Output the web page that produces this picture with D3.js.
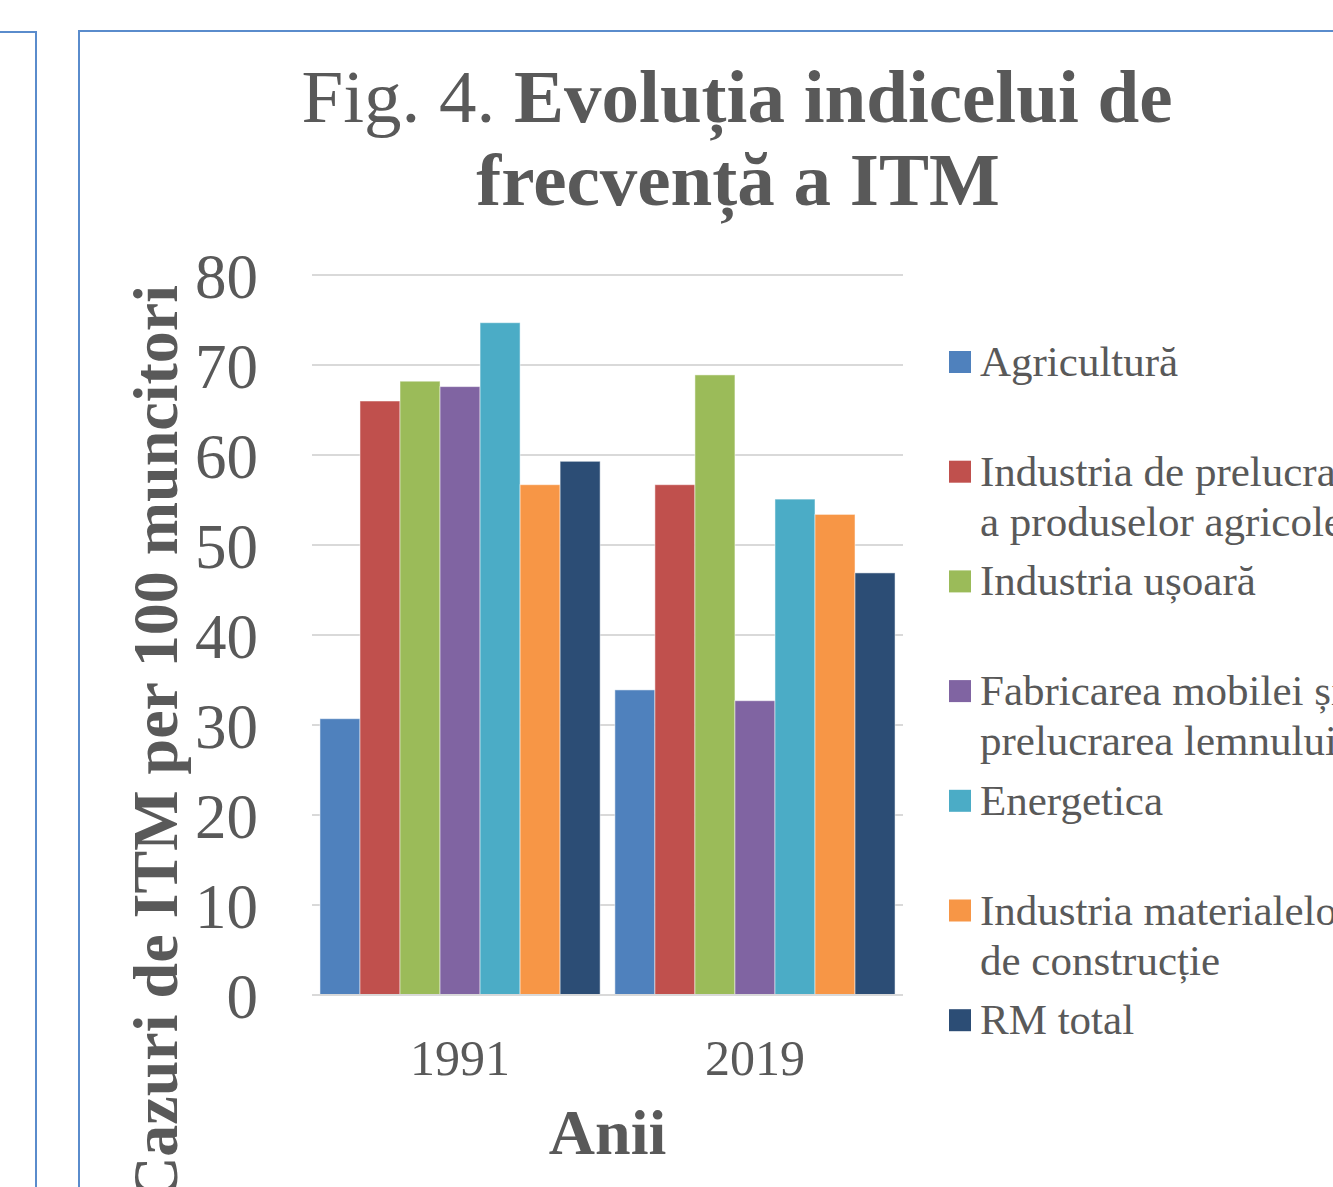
<!DOCTYPE html>
<html>
<head>
<meta charset="utf-8">
<script src="https://cdn.jsdelivr.net/npm/d3@7"></script>
<style>
  body { margin: 0; background: #fff; }
  text { font-family: "Liberation Serif", "Times New Roman", serif; fill: #595959; }
</style>
</head>
<body>
<div id="chart"></div>
<script>

// data
var years = ["1991", "2019"];
var seriesNames = ["Agricultură", "Industria de prelucrare a produselor agricole", "Industria ușoară",
  "Fabricarea mobilei și prelucrarea lemnului", "Energetica", "Industria materialelor de construcție", "RM total"];
var legendLines = [["Agricultură"], ["Industria de prelucrare", "a produselor agricole"], ["Industria ușoară"],
  ["Fabricarea mobilei și", "prelucrarea lemnului"], ["Energetica"], ["Industria materialelor", "de construcție"], ["RM total"]];
var values1991 = [30.7, 66.0, 68.2, 67.6, 74.7, 56.7, 59.3];
var values2019 = [33.9, 56.7, 68.9, 32.7, 55.1, 53.4, 46.9];
var yTicks = [0, 10, 20, 30, 40, 50, 60, 70, 80];
var colors = ["#4F81BD", "#C0504D", "#9BBB59", "#8064A2", "#4BACC6", "#F79646", "#2C4D75"];

var W = 1333, H = 1187;
var plot = { left: 312, right: 903, top: 275, bottom: 995 };

var svg = d3.select("#chart")
  .append("svg")
  .attr("width", W)
  .attr("height", H);

svg.append("rect").attr("width", W).attr("height", H).attr("fill", "#fff");

// frames of the chart boxes
svg.append("rect")
  .attr("x", -10).attr("y", 32).attr("width", 46).attr("height", H + 20)
  .attr("fill", "none").attr("stroke", "#5a8ccc").attr("stroke-width", 2);
svg.append("rect")
  .attr("x", 79).attr("y", 31).attr("width", W).attr("height", H)
  .attr("fill", "none").attr("stroke", "#5a8ccc").attr("stroke-width", 2);

// title
var title = svg.append("text")
  .attr("text-anchor", "middle")
  .attr("font-size", 75);
var t1 = title.append("tspan").attr("x", 737).attr("y", 122);
t1.append("tspan").text("Fig. 4. ");
t1.append("tspan").attr("font-weight", "bold").text("Evoluția indicelui de");
title.append("tspan").attr("x", 738).attr("y", 205).attr("font-weight", "bold").text("frecvență a ITM");

// scales
var y = d3.scaleLinear()
  .domain([0, 80])
  .range([plot.bottom, plot.top]);

var x0 = d3.scaleBand()
  .domain(years)
  .range([plot.left, plot.right])
  .paddingInner(0.05)
  .paddingOuter(0.027);

var x1 = d3.scaleBand()
  .domain(seriesNames)
  .range([0, x0.bandwidth()]);

// gridlines
svg.append("g")
  .selectAll("line")
  .data(yTicks)
  .enter().append("line")
  .attr("x1", plot.left).attr("x2", plot.right)
  .attr("y1", function(d) { return y(d); })
  .attr("y2", function(d) { return y(d); })
  .attr("stroke", "#d9d9d9")
  .attr("stroke-width", 2);

// y tick labels
svg.append("g")
  .selectAll("text")
  .data(yTicks)
  .enter().append("text")
  .attr("x", 258)
  .attr("y", function(d) { return y(d); })
  .attr("dy", "0.36em")
  .attr("text-anchor", "end")
  .attr("font-size", 63)
  .text(function(d) { return d; });

// bars
var table = years.map(function(yr, i) {
  var vals = i == 0 ? values1991 : values2019;
  return { year: yr, vals: vals };
});

var groups = svg.append("g")
  .selectAll("g")
  .data(table)
  .enter().append("g")
  .attr("transform", function(d) { return "translate(" + x0(d.year) + ",0)"; });

groups.selectAll("rect")
  .data(function(d) { return d.vals.map(function(v, k) { return { name: seriesNames[k], v: v, k: k }; }); })
  .enter().append("rect")
  .attr("x", function(d) { return x1(d.name); })
  .attr("width", x1.bandwidth())
  .attr("y", function(d) { return y(d.v); })
  .attr("height", function(d) { return y(0) - y(d.v); })
  .attr("fill", function(d) { return colors[d.k]; })
  .attr("stroke", "#ffffff")
  .attr("stroke-opacity", 0.5)
  .attr("stroke-width", 1);

// baseline over the bars
svg.append("line")
  .attr("x1", plot.left).attr("x2", plot.right)
  .attr("y1", y(0)).attr("y2", y(0))
  .attr("stroke", "#d9d9d9").attr("stroke-width", 2);

// x tick labels
svg.append("g")
  .selectAll("text")
  .data(years)
  .enter().append("text")
  .attr("x", function(d) { return x0(d) + x0.bandwidth() / 2; })
  .attr("y", 1075)
  .attr("text-anchor", "middle")
  .attr("font-size", 50)
  .text(function(d) { return d; });

// axis titles
svg.append("text")
  .attr("x", (plot.left + plot.right) / 2)
  .attr("y", 1154)
  .attr("text-anchor", "middle")
  .attr("font-size", 64)
  .attr("font-weight", "bold")
  .text("Anii");

svg.append("text")
  .attr("transform", "translate(177,285)rotate(-90)")
  .attr("text-anchor", "end")
  .attr("font-size", 64)
  .attr("font-weight", "bold")
  .text("Cazuri de ITM per 100 muncitori");

// legend
var legend = svg.append("g")
  .selectAll("g")
  .data(legendLines)
  .enter().append("g")
  .attr("transform", function(d, i) { return "translate(949," + (362 + i * 109.7) + ")"; });

legend.append("rect")
  .attr("x", 0).attr("y", -11)
  .attr("width", 22).attr("height", 22)
  .attr("fill", function(d, i) { return colors[i]; });

legend.append("text")
  .attr("font-size", 43)
  .selectAll("tspan")
  .data(function(d) { return d; })
  .enter().append("tspan")
  .attr("x", 31)
  .attr("y", function(d, j) { return 14 + j * 50; })
  .text(function(d) { return d; });

</script>
</body>
</html>
